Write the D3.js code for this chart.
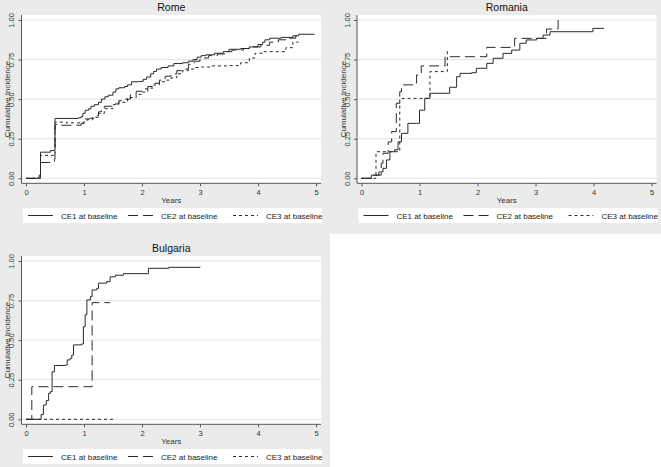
<!DOCTYPE html>
<html><head><meta charset="utf-8">
<script src="https://cdn.jsdelivr.net/npm/d3@7"></script>
<style>body{margin:0;background:#ebebeb}svg{display:block}</style>
</head><body>
<svg id="c" width="661" height="467"></svg>
<script>
const yearTicks=[0,1,2,3,4,5];
const probTicks=[0,0.25,0.5,0.75,1];
const seriesNames=["CE1 at baseline","CE2 at baseline","CE3 at baseline"];
const panelTitles=["Rome","Romania","Bulgaria"];

// [years, cumulative incidence] step points
const romeCE1=[[0,0],[0.2,0.005],[0.23,0.02],[0.25,0.165],[0.42,0.175],[0.49,0.178],[0.5,0.378],[0.9,0.382],[0.95,0.39],[0.98,0.41],[1.02,0.43],[1.08,0.44],[1.12,0.455],[1.18,0.465],[1.25,0.48],[1.3,0.5],[1.36,0.515],[1.42,0.525],[1.5,0.545],[1.55,0.565],[1.6,0.572],[1.7,0.58],[1.75,0.59],[1.82,0.61],[1.95,0.612],[2.02,0.625],[2.08,0.64],[2.15,0.66],[2.2,0.675],[2.25,0.69],[2.33,0.7],[2.45,0.71],[2.55,0.725],[2.7,0.73],[2.8,0.74],[2.88,0.75],[2.95,0.765],[3.02,0.775],[3.1,0.78],[3.25,0.79],[3.4,0.8],[3.5,0.815],[3.7,0.82],[3.85,0.83],[4.0,0.845],[4.08,0.86],[4.12,0.875],[4.2,0.885],[4.4,0.89],[4.6,0.9],[4.7,0.91],[4.97,0.912]];
const romeCE2=[[0,0],[0.25,0.1],[0.48,0.1],[0.49,0.12],[0.5,0.34],[0.6,0.335],[0.95,0.345],[1.0,0.375],[1.1,0.38],[1.2,0.395],[1.25,0.42],[1.3,0.44],[1.35,0.455],[1.5,0.47],[1.6,0.49],[1.7,0.5],[1.8,0.53],[1.9,0.55],[2.0,0.565],[2.1,0.58],[2.2,0.6],[2.3,0.62],[2.4,0.645],[2.5,0.66],[2.6,0.68],[2.7,0.69],[2.8,0.72],[2.9,0.74],[3.0,0.76],[3.15,0.775],[3.3,0.785],[3.45,0.8],[3.55,0.81],[3.75,0.82],[3.9,0.83],[4.05,0.84],[4.2,0.86],[4.35,0.875],[4.5,0.885],[4.65,0.9],[4.72,0.905]];
const romeCE3=[[0,0],[0.25,0.145],[0.48,0.15],[0.5,0.355],[0.7,0.35],[0.98,0.355],[1.05,0.37],[1.15,0.385],[1.25,0.41],[1.35,0.44],[1.5,0.465],[1.6,0.48],[1.75,0.51],[1.9,0.53],[2.0,0.545],[2.1,0.57],[2.2,0.59],[2.3,0.61],[2.4,0.62],[2.5,0.635],[2.6,0.66],[2.7,0.68],[2.8,0.69],[2.9,0.7],[3.0,0.703],[3.2,0.71],[3.5,0.712],[3.7,0.73],[3.85,0.76],[3.95,0.79],[4.1,0.8],[4.45,0.8],[4.48,0.825],[4.6,0.86],[4.7,0.86]];

const romaniaCE1=[[0,0],[0.17,0.02],[0.3,0.04],[0.37,0.063],[0.43,0.116],[0.49,0.168],[0.57,0.18],[0.63,0.23],[0.69,0.284],[0.8,0.347],[0.95,0.347],[1.0,0.43],[1.09,0.505],[1.18,0.537],[1.44,0.537],[1.52,0.575],[1.64,0.642],[1.7,0.663],[1.9,0.667],[1.98,0.695],[2.16,0.726],[2.27,0.758],[2.44,0.789],[2.59,0.81],[2.73,0.853],[2.84,0.874],[3.02,0.884],[3.13,0.905],[3.25,0.926],[3.99,0.947],[4.18,0.947]];
const romaniaCE2=[[0,0],[0.18,0.02],[0.25,0.02],[0.34,0.095],[0.37,0.158],[0.46,0.23],[0.52,0.295],[0.6,0.474],[0.66,0.547],[0.69,0.59],[0.95,0.653],[1.03,0.71],[1.44,0.768],[2.16,0.827],[2.64,0.884],[3.19,0.943],[3.39,1.0],[3.4,1.0]];
const romaniaCE3=[[0,0],[0.25,0.168],[0.66,0.505],[1.18,0.674],[1.48,0.815],[1.49,0.815]];

const bulgariaCE1=[[0,0],[0.26,0.03],[0.3,0.09],[0.35,0.118],[0.39,0.164],[0.42,0.175],[0.45,0.3],[0.49,0.34],[0.68,0.343],[0.71,0.375],[0.76,0.385],[0.79,0.406],[0.82,0.47],[0.96,0.476],[0.99,0.585],[1.02,0.66],[1.05,0.754],[1.11,0.775],[1.14,0.817],[1.22,0.827],[1.25,0.86],[1.39,0.87],[1.45,0.9],[1.54,0.91],[1.68,0.92],[2.11,0.954],[2.46,0.96],[3.0,0.964]];
const bulgariaCE2=[[0,0],[0.1,0.206],[1.14,0.737],[1.45,0.737]];
const bulgariaCE3=[[0,0],[1.51,0]];

const dashes=[null,"10,5","3,3"];
const panels=[
  {title:panelTitles[0],ox:0,oy:0,series:[romeCE1,romeCE2,romeCE3]},
  {title:panelTitles[1],ox:335.5,oy:0,series:[romaniaCE1,romaniaCE2,romaniaCE3]},
  {title:panelTitles[2],ox:0,oy:241,series:[bulgariaCE1,bulgariaCE2,bulgariaCE3]}
];
const FONT="'Liberation Sans', Arial, Helvetica, sans-serif";
const svg=d3.select("#c");
svg.append("rect").attr("x",0).attr("y",0).attr("width",661).attr("height",467).attr("fill","#ebebeb");
svg.append("rect").attr("x",330).attr("y",234).attr("width",331).attr("height",233).attr("fill","#ffffff");

panels.forEach(p=>{
  const x=d3.scaleLinear().domain([0,5]).range([p.ox+26,p.ox+316]);
  const y=d3.scaleLinear().domain([0,1]).range([p.oy+178.3,p.oy+20]);
  const L=x(0)-4.5,R=x(5)+5,T=y(1)-5,B=y(0)+5;
  const g=svg.append("g");
  g.append("rect").attr("x",L).attr("y",T).attr("width",R-L).attr("height",B-T).attr("fill","#fff");
  g.selectAll(".grid").data(probTicks).join("line")
    .attr("x1",L).attr("x2",R).attr("y1",d=>y(d)).attr("y2",d=>y(d))
    .attr("stroke","#e3e3e3").attr("stroke-width",1);
  // title
  g.append("text").attr("x",(L+R)/2).attr("y",p.oy+11).attr("text-anchor","middle")
    .attr("font-family",FONT).attr("font-size",10.5).attr("fill","#111").text(p.title);
  // axes
  const ya=d3.axisLeft(y).tickValues(probTicks).tickFormat(d3.format(".2f")).tickSize(3).tickSizeOuter(0);
  const yg=g.append("g").attr("transform",`translate(${L},0)`).call(ya);
  yg.select(".domain").remove();
  yg.selectAll("line").attr("stroke","#555");
  yg.selectAll("text").attr("x",null).attr("dy",null).attr("text-anchor","middle")
    .attr("transform","translate(-7.5,0) rotate(-90)")
    .attr("font-family",FONT).attr("font-size",7.5).attr("fill","#333");
  const xa=d3.axisBottom(x).tickValues(yearTicks).tickFormat(d3.format("d")).tickSize(3).tickSizeOuter(0);
  const xg=g.append("g").attr("transform",`translate(0,${B})`).call(xa);
  xg.select(".domain").remove();
  xg.selectAll("line").attr("stroke","#555");
  xg.selectAll("text").attr("y",12).attr("dy",null)
    .attr("font-family",FONT).attr("font-size",7.5).attr("fill","#333");
  g.append("line").attr("x1",L).attr("x2",L).attr("y1",T).attr("y2",B).attr("stroke","#555");
  g.append("line").attr("x1",L).attr("x2",R).attr("y1",B).attr("y2",B).attr("stroke","#555");
  // axis titles
  g.append("text").attr("transform",`translate(${p.ox+10},${y(0.5)}) rotate(-90)`).attr("text-anchor","middle")
    .attr("font-family",FONT).attr("font-size",8).attr("fill","#333").text("Cumulative Incidence");
  g.append("text").attr("x",(L+R)/2).attr("y",p.oy+203).attr("text-anchor","middle")
    .attr("font-family",FONT).attr("font-size",8).attr("fill","#333").text("Years");
  // curves
  const line=d3.line().x(d=>x(d[0])).y(d=>y(d[1])).curve(d3.curveStepAfter);
  p.series.forEach((s,i)=>{
    g.append("path").attr("d",line(s)).attr("fill","none").attr("stroke","#2a2a2a")
      .attr("stroke-width",1).attr("stroke-dasharray",dashes[i]);
  });
  // legend
  const ly=p.oy+215.5;
  g.append("rect").attr("x",p.ox+23).attr("y",p.oy+208).attr("width",299).attr("height",15).attr("fill","#fff");
  const lx=[p.ox+28,p.ox+128,p.ox+233];
  seriesNames.forEach((n,i)=>{
    g.append("line").attr("x1",lx[i]).attr("x2",lx[i]+25).attr("y1",ly).attr("y2",ly)
      .attr("stroke","#2a2a2a").attr("stroke-dasharray",dashes[i]);
    g.append("text").attr("x",lx[i]+33).attr("y",ly+3).attr("font-family",FONT).attr("font-size",8)
      .attr("fill","#222").text(n);
  });
});
</script>
</body></html>
